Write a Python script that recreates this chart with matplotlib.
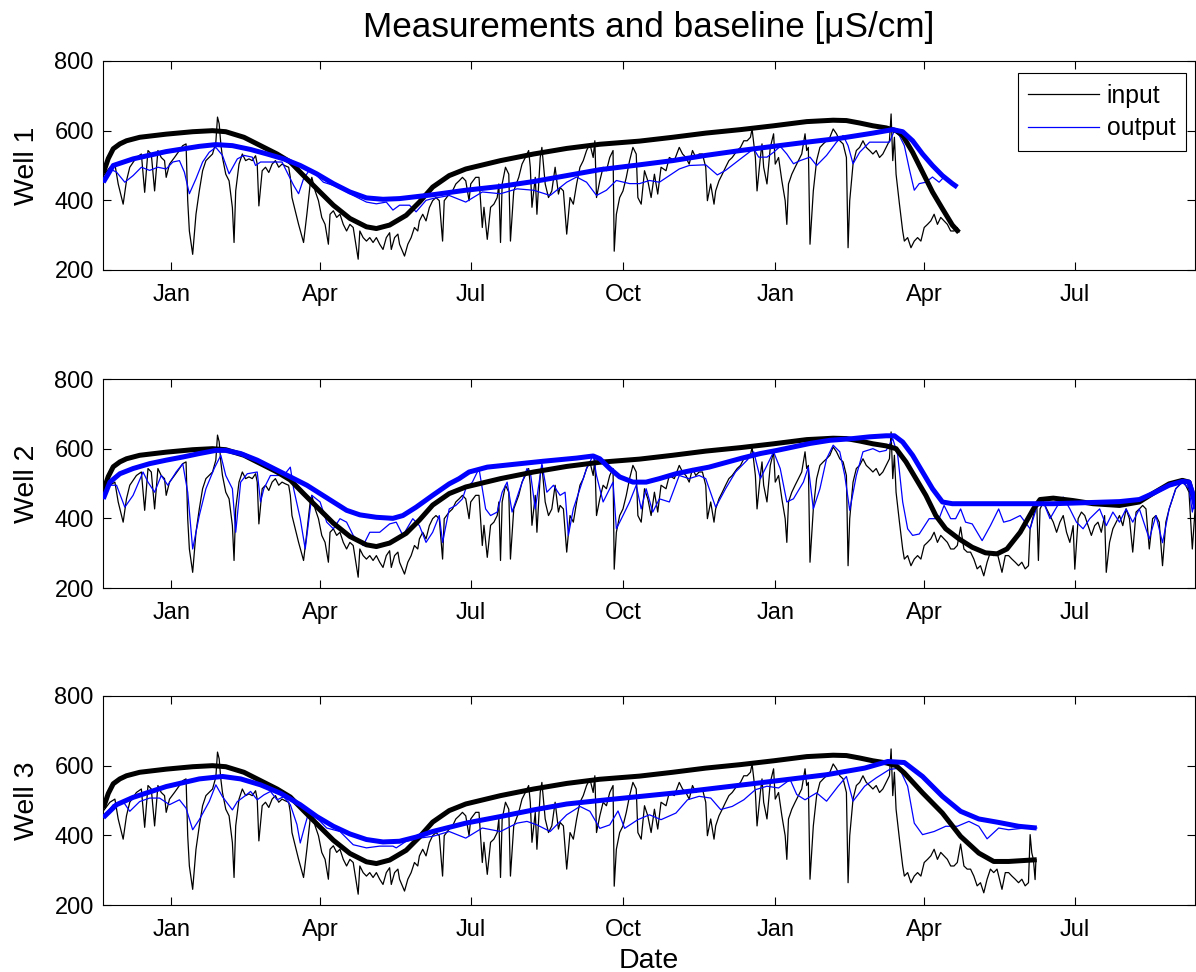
import numpy as np
import matplotlib
matplotlib.use('Agg')
import matplotlib.pyplot as plt
import matplotlib.dates as mdates
from datetime import datetime

plt.rcParams['font.family'] = ['Liberation Sans', 'DejaVu Sans']

# day offsets from 2012-11-21, values in uS/cm
start = datetime(2012, 11, 21)
x_end = 659.5

# measured input (same logger for all wells)
input_pts = [(0,470),(4,495),(7,504),(9,447),(12,389),(14,456),(16,495),(20,523),(23,533),(25,423),
    (27,543),(29,533),(31,427),(33,543),(35,523),(37,514),(38,466),(40,504),(43,523),(46,543),(48,557),
    (50,562),(51,399),(52,312),(54,245),(56,360),(58,427),(60,485),(62,514),(66,533),(68,567),(69,639),
    (70,620),(71,562),(72,523),(74,475),(76,456),(78,379),(79,279),(80,427),(82,504),(84,533),(86,514),
    (88,519),(90,514),(92,528),(93,504),(94,384),(96,485),(98,495),(100,480),(102,504),(104,514),(106,495),
    (108,504),(110,499),(112,495),(113,466),(114,408),(116,370),(118,331),(121,279),(123,360),(125,447),
    (126,466),(128,427),(130,399),(132,351),(134,331),(136,274),(137,360),(139,370),(141,351),(143,360),
    (145,331),(147,312),(149,331),(151,322),(154,231),(155,312),(157,293),(159,283),(161,293),(163,279),
    (165,293),(167,274),(169,259),(171,293),(173,307),(174,259),(176,293),(178,303),(179,274),(182,240),
    (184,274),(186,293),(188,322),(190,312),(191,341),(193,360),(195,341),(197,379),(199,399),(201,408),
    (203,399),(205,283),(206,399),(209,418),(211,427),(213,447),(215,456),(217,466),(219,456),(221,399),
    (222,447),(225,466),(227,466),(229,322),(230,380),(232,288),(234,380),(236,389),(238,408),(239,447),
    (240,279),(241,447),(243,495),(245,475),(246,283),(248,427),(251,466),(253,504),(255,523),(257,543),
    (258,495),(259,380),(261,466),(262,360),(264,523),(265,552),(267,447),(269,408),(271,427),(273,495),
    (275,418),(276,437),(278,427),(280,303),(282,408),(284,389),(286,447),(288,495),(290,514),(292,543),
    (294,562),(296,523),(297,571),(298,408),(300,456),(302,495),(304,485),(306,523),(308,543),(308.7,254),
    (310,360),(312,408),(314,427),(316,466),(318,514),(320,552),(322,533),(323,408),(325,389),(327,485),
    (329,456),(331,408),(333,475),(335,418),(337,495),(340,485),(342,523),(345,514),(348,552),(350,533),
    (352,523),(354,504),(356,543),(358,523),(360,533),(362,533),(364,495),(365,399),(367,447),(369,389),
    (370,427),(372,456),(374,475),(376,495),(378,514),(380,523),(383,543),(385,552),(387,571),(389,571),
    (391,581),(392,605),(394,523),(395,427),(397,523),(398,562),(399,495),(401,447),(403,552),(405,591),
    (406,504),(408,523),(410,456),(412,399),(413,331),(414,447),(416,475),(418,495),(420,514),(422,533),
    (424,591),(425,543),(426,552),(427,274),(429,427),(431,514),(433,552),(435,562),(437,571),(439,581),
    (441,605),(443,591),(445,571),(447,562),(449,523),(450,264),(451,399),(453,504),(455,543),(457,552),
    (459,571),(461,552),(463,543),(465,533),(467,543),(469,523),(471,533),(473,552),(475,571),(476,648),
    (477,514),(478,581),(479,475),(481,391),(483,312),(484,283),(486,293),(488,264),(490,283),(492,293),
    (494,283),(496,322),(498,331),(500,341),(502,360),(504,331),(506,351),(508,341),(510,331),(512,312),
    (514,312),(516,322),(518,375),(520,312),(522,303),(524,303),(526,283),(528,255),(530,264),(532,235),
    (534,274),(536,303),(538,293),(540,303),(543,245),(545,293),(547,293),(549,283),(551,274),(553,264),
    (555,274),(557,255),(559,264),(560,370),(562,408),(564,447),(565,279),(566,427),(568,447),(570,427),
    (572,408),(574,389),(576,360),(578,389),(580,408),(582,360),(584,331),(586,379),(587,254),(589,399),
    (591,418),(593,408),(595,379),(597,351),(599,379),(601,389),(603,360),(605,408),(606,245),(608,331),
    (610,370),(612,389),(614,408),(616,379),(618,427),(620,399),(622,303),(624,418),(626,427),(628,437),
    (630,427),(632,312),(634,399),(636,408),(638,389),(640,264),(642,389),(644,427),(646,456),(648,485),
    (650,495),(652,504),(654,495),(656,475),(658,312),(660,447)]
input_last_day = [516, 660, 559]
input_tail = [[(517,309)], [], [(560,402),(561,350),(562,330),(563,273),(563.5,330)]]

# input baseline, common part and per-well tails
in_base_pts = [(0,478),(3,520),(6,548),(10,562),(14,571),(22,581),(38,590),(54,597),(66,600),(74,597),
    (85,581),(95,557),(105,533),(113,510),(121,471),(129,433),(139,386),(149,348),(159,324),(165,319),
    (173,329),(183,357),(191,395),(199,438),(209,471),(219,490),(240,514),(260,533),(280,549),(300,561),
    (324,570),(344,581),(364,593),(385,603),(405,614),(425,626),(441,630),(449,629),(457,622),(465,614),
    (473,608),(479,600)]
in_base_tail = [
    [(483,586),(489,538),(495,481),(501,424),(507,376),(513,329),(517,308)],
    [(485,562),(491,514),(497,466),(503,408),(509,370),(517,341),(525,317),(533,301),(540,298),(546,312),
     (554,360),(562,427),(566,454),(574,458),(586,451),(598,442),(614,437),(626,447),(634,471),(644,499),
     (652,509),(656,504),(659,456)],
    [(484,579),(495,522),(507,464),(518,397),(529,349),(538,325),(547,325),(564,330)]]

# output (thin blue) per well
out_pts = [
    [(0,452),(4,490),(8,481),(13,452),(18,471),(23,495),(28,486),(33,495),(38,490),(42,510),(46,514),
     (49,481),(52,419),(56,462),(60,510),(64,538),(68,552),(72,529),(76,476),(81,519),(85,529),(90,524),
     (92,500),(95,510),(101,510),(108,510),(111,481),(115,443),(118,419),(121,462),(125,490),(129,471),
     (133,452),(139,443),(145,429),(151,414),(159,395),(165,390),(171,395),(175,372),(179,386),(185,386),
     (189,367),(195,400),(199,405),(209,414),(219,395),(229,424),(240,419),(250,433),(260,429),(270,414),
     (280,452),(286,467),(292,452),(298,414),(304,429),(310,457),(318,448),(324,448),(330,457),(336,452),
     (342,471),(348,490),(354,500),(364,502),(371,473),(376,486),(385,519),(393,548),(396,524),(401,524),
     (405,538),(409,555),(413,533),(417,505),(421,514),(427,524),(431,500),(437,529),(443,567),(447,586),
     (450,557),(453,505),(457,538),(463,567),(469,567),(475,567),(478,600),(481,586),(484,557),(487,490),
     (490,429),(493,448),(497,452),(501,467),(505,452),(508,467)],
    [(0,456),(4,495),(8,495),(13,432),(18,466),(24,533),(27,504),(31,475),(35,523),(39,495),(44,533),
     (48,557),(51,475),(54,312),(58,408),(62,485),(67,543),(71,581),(74,523),(78,485),(80,360),(83,504),
     (87,528),(93,533),(95,447),(97,485),(101,523),(105,523),(109,523),(113,547),(115,485),(119,399),
     (122,312),(126,466),(131,447),(135,389),(139,370),(143,399),(147,389),(151,351),(157,322),(161,360),
     (167,360),(173,384),(177,389),(181,351),(187,399),(191,379),(195,331),(199,360),(203,408),(205,331),
     (209,427),(213,437),(217,456),(219,485),(223,504),(227,543),(231,427),(234,408),(238,418),(241,475),
     (244,504),(247,418),(251,475),(256,543),(258,533),(261,427),(265,557),(268,475),(272,495),(276,466),
     (279,475),(281,351),(284,427),(288,485),(292,543),(296,581),(298,523),(302,447),(308,504),(310,370),
     (314,408),(318,447),(322,495),(325,427),(328,485),(332,418),(336,456),(342,447),(348,523),(354,514),
     (360,523),(364,514),(370,432),(376,485),(382,533),(389,567),(393,591),(397,514),(401,552),(405,591),
     (409,543),(413,447),(417,456),(423,504),(426,547),(429,427),(433,485),(437,571),(441,610),(445,591),
     (448,523),(451,423),(455,523),(459,591),(465,600),(469,591),(473,595),(477,629),(480,581),(483,447),
     (486,370),(489,351),(493,355),(499,399),(505,399),(508,437),(512,399),(515,399),(518,427),(521,389),
     (525,384),(531,336),(536,379),(541,427),(544,389),(548,394),(554,408),(560,370),(564,432),(568,447),
     (572,399),(576,432),(580,461),(584,427),(588,389),(592,370),(596,399),(602,427),(606,379),(610,418),
     (614,389),(618,427),(622,389),(626,427),(632,341),(636,408),(640,330),(644,427),(648,485),(652,504),
     (656,485),(658,418),(660,466)],
    [(0,451),(6,488),(12,497),(16,469),(22,497),(28,507),(34,507),(40,488),(46,502),(50,478),(54,416),
     (58,445),(64,497),(68,545),(72,511),(78,473),(81,497),(85,511),(89,526),(93,502),(97,516),(101,526),
     (105,502),(109,511),(113,488),(117,431),(119,378),(122,431),(124,464),(129,450),(135,421),(143,411),
     (151,373),(159,364),(167,369),(175,369),(177,364),(183,383),(191,392),(199,397),(209,411),(219,392),
     (229,421),(240,411),(250,435),(256,440),(262,430),(270,411),(280,459),(288,483),(294,469),(300,420),
     (306,430),(311,470),(315,420),(323,445),(330,459),(337,445),(346,464),(353,502),(360,512),(367,507),
     (373,474),(380,483),(387,502),(394,531),(401,541),(408,536),(415,560),(419,517),(424,502),(431,522),
     (437,498),(444,541),(449,569),(453,498),(460,541),(467,565),(475,589),(481,593),(486,541),(490,435),
     (495,402),(502,411),(509,426),(516,426),(523,440),(529,426),(534,390),(541,421),(547,416),(557,421),
     (564,421)]]

# output baseline (thick blue) per well
out_base_pts = [
    [(0,452),(6,500),(18,519),(38,540),(58,555),(68,560),(78,557),(89,546),(99,533),(109,519),(119,500),
     (129,476),(139,448),(149,424),(159,407),(169,403),(179,405),(199,416),(219,429),(240,440),(260,454),
     (280,471),(300,488),(324,502),(344,514),(364,529),(385,543),(405,555),(425,567),(445,578),(465,593),
     (477,603),(483,597),(489,571),(495,533),(501,500),(507,471),(513,448),(516,438)],
    [(0,456),(4,504),(10,528),(18,543),(28,557),(38,567),(48,576),(58,586),(68,595),(74,595),(83,586),
     (93,567),(103,543),(113,519),(123,495),(131,471),(139,447),(147,423),(155,410),(165,403),(175,400),
     (181,408),(189,432),(199,466),(209,499),(215,514),(221,533),(232,547),(246,554),(266,564),(286,573),
     (296,579),(300,571),(306,543),(312,519),(320,504),(328,504),(336,514),(346,528),(356,538),(366,547),
     (376,560),(386,573),(397,586),(407,595),(417,605),(427,615),(439,624),(453,629),(463,634),(473,637),
     (478,637),(483,619),(489,581),(495,533),(501,485),(507,447),(513,442),(533,442),(554,442),(574,442),
     (594,445),(614,448),(626,454),(634,471),(644,495),(652,506),(656,504),(658,475),(660,427)],
    [(0,451),(8,488),(18,509),(38,540),(58,562),(72,569),(83,562),(95,545),(107,521),(119,488),(129,454),
     (139,426),(149,404),(159,388),(169,381),(179,383),(189,395),(199,411),(219,435),(240,454),(260,473),
     (280,490),(300,500),(346,522),(392,548),(437,574),(460,593),(474,612),(484,609),(495,569),(507,512),
     (518,469),(529,447),(541,437),(553,426),(564,421)]]

well_names = ['Well 1', 'Well 2', 'Well 3']
yticks = [200, 400, 600, 800]

t0 = mdates.date2num(start)

def to_xy(pts):
    a = np.array(pts, dtype=float).reshape(-1, 2)
    return t0 + a[:, 0], a[:, 1]

fig = plt.figure(figsize=(11.96, 9.72), dpi=100)
tops = [61, 379, 696]
for i in range(3):
    top = tops[i]
    ax = fig.add_axes([103.3/1196, 1 - (top + 209)/972, 1091.5/1196, 209/972])

    pts = [p for p in input_pts if p[0] <= input_last_day[i]] + input_tail[i]
    x, y = to_xy(pts)
    h_in, = ax.plot(x, y, color='k', lw=0.9, label='input', zorder=2)
    x, y = to_xy(out_pts[i])
    h_out, = ax.plot(x, y, color=(0, 0, 1), lw=0.9, label='output', zorder=3)
    x, y = to_xy(in_base_pts + in_base_tail[i])
    ax.plot(x, y, color='k', lw=3.6, zorder=4, solid_capstyle='butt')
    x, y = to_xy(out_base_pts[i])
    ax.plot(x, y, color=(0, 0, 1), lw=3.6, zorder=5, solid_capstyle='butt')

    ax.set_xlim(t0, t0 + x_end)
    ax.set_ylim(200, 800)
    ax.set_yticks(yticks)
    ax.xaxis.set_major_locator(mdates.MonthLocator(bymonth=[1, 4, 7, 10]))
    ax.xaxis.set_major_formatter(mdates.DateFormatter('%b'))
    ax.tick_params(axis='both', direction='in', length=5.5, width=0.8, top=True, right=True,
                   labelsize=17)
    ax.tick_params(axis='x', pad=10)
    ax.tick_params(axis='y', pad=6.8)
    for s in ax.spines.values():
        s.set_linewidth(0.8)
    ax.set_ylabel(well_names[i], fontsize=20.5)
    ax.yaxis.set_label_coords(-0.058, 0.5)

    if i == 0:
        ax.set_title('Measurements and baseline [\u03bcS/cm]', fontsize=25.3, pad=17)
        leg = ax.legend([h_in, h_out], ['input', 'output'], loc='upper right',
                        bbox_to_anchor=(0.9918, 0.942), borderaxespad=0, fontsize=17.8,
                        fancybox=False, framealpha=1, edgecolor='k', handlelength=2.85,
                        handletextpad=0.33, labelspacing=0.35, borderpad=0.42)
        leg.get_frame().set_linewidth(0.8)
    if i == 2:
        ax.set_xlabel('Date', fontsize=20.5)
        ax.xaxis.set_label_coords(0.5, -0.205)

fig.savefig('out.png', dpi=100)
